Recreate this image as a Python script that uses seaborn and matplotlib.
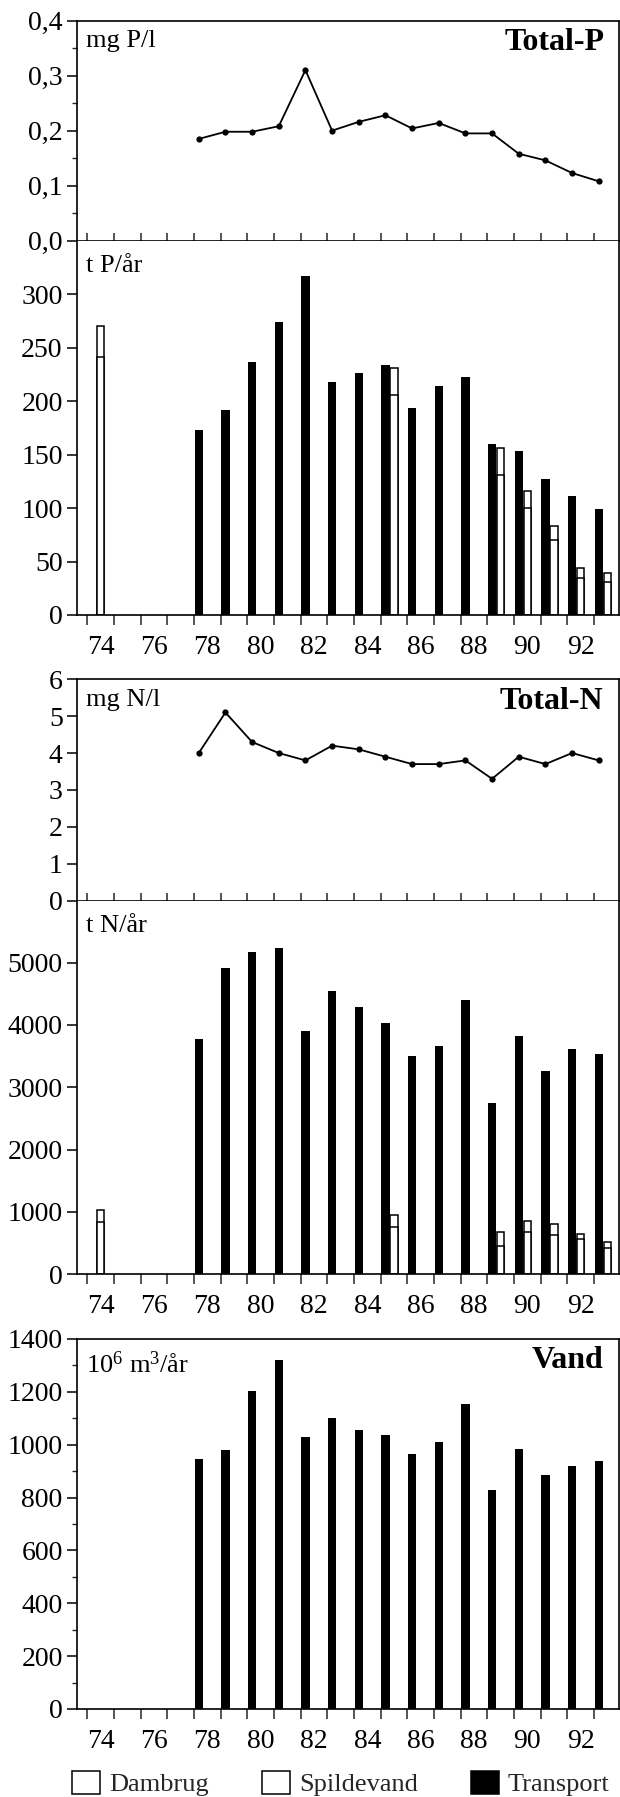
import matplotlib
matplotlib.use("Agg")
import matplotlib.pyplot as plt
import seaborn as sns
from matplotlib.patches import Patch
from matplotlib.ticker import MultipleLocator, FixedLocator, FixedFormatter, FuncFormatter

# ---- data -------------------------------------------------------------
years = [78, 79, 80, 81, 82, 83, 84, 85, 86, 87, 88, 89, 90, 91, 92, 93]

# concentrations
total_p_conc = [0.185, 0.198, 0.198, 0.208, 0.31, 0.20, 0.216, 0.228,
                0.204, 0.214, 0.195, 0.195, 0.158, 0.146, 0.123, 0.108]
total_n_conc = [4.0, 5.1, 4.3, 4.0, 3.8, 4.2, 4.1, 3.9,
                3.7, 3.7, 3.8, 3.3, 3.9, 3.7, 4.0, 3.8]

# transport (t/år)
p_transport = [173, 192, 237, 274, 317, 218, 226, 234,
               194, 214, 223, 160, 153, 127, 111, 99]
n_transport = [3770, 4920, 5170, 5230, 3910, 4550, 4290, 4030,
               3510, 3660, 4400, 2740, 3830, 3260, 3620, 3540]

# water discharge (10^6 m3/år)
vand = [945, 980, 1205, 1320, 1030, 1100, 1055, 1035,
        965, 1010, 1155, 830, 985, 885, 920, 940]

# point sources (stacked: spildevand at the bottom, dambrug on top)
source_years = [74, 85, 89, 90, 91, 92, 93]
p_spildevand = [241, 206, 131, 100, 70, 35, 31]
p_dambrug = [29, 25, 25, 16, 13, 9, 8]
n_spildevand = [830, 750, 445, 670, 630, 565, 415]
n_dambrug = [200, 200, 225, 180, 170, 85, 105]

legend_labels = ["Dambrug", "Spildevand", "Transport"]
year_labels = ["74", "76", "78", "80", "82", "84", "86", "88", "90", "92"]

# ---- style ------------------------------------------------------------
sns.set_theme(style="ticks")
plt.rcParams["font.family"] = ["Liberation Serif", "DejaVu Serif"]
plt.rcParams["mathtext.fontset"] = "custom"
plt.rcParams["mathtext.rm"] = "Liberation Serif"
plt.rcParams["mathtext.it"] = "Liberation Serif:italic"
plt.rcParams["axes.linewidth"] = 1.2

FS = 19          # unit labels and legend
TICK_FS = 20     # tick labels
W, H = 620, 1797
fig = plt.figure(figsize=(W / 100, H / 100), dpi=100)

X_LEFT, X_RIGHT = 77.3, 619.0


def add_axes(top, bottom):
    return fig.add_axes([X_LEFT / W, 1 - bottom / H,
                         (X_RIGHT - X_LEFT) / W, (bottom - top) / H])


ax1 = add_axes(20.6, 240.7)
ax2 = add_axes(240.7, 615.0)
ax3 = add_axes(679.3, 900.5)
ax4 = add_axes(900.5, 1274.0)
ax5 = add_axes(1339.0, 1709.0)

XLIM = (73.625, 93.94)
LINE_OFF = 0.18     # offset of line points / transport bars inside a year
SRC_OFF = 0.5       # offset of point-source bars inside a year
x_line = [y + LINE_OFF for y in years]
x_src = [y + SRC_OFF for y in source_years]


def comma(v, _pos, nd):
    return f"{v:.{nd}f}".replace(".", ",")


def style_common(ax):
    ax.set_xlim(*XLIM)
    ax.set_xlabel("")
    ax.set_ylabel("")
    for s in ax.spines.values():
        s.set_linewidth(1.2)
        s.set_color("black")
    ax.tick_params(axis="y", which="major", direction="out", length=7.5,
                   width=1.1, labelsize=TICK_FS, pad=3, colors="black")
    ax.tick_params(axis="y", which="minor", direction="out", length=3.5,
                   width=1.0)
    ax.xaxis.set_major_locator(FixedLocator(list(range(74, 94))))


def style_line_panel(ax):
    style_common(ax)
    ax.xaxis.set_major_formatter(FixedFormatter([""] * 20))
    ax.tick_params(axis="x", which="major", direction="in", length=6,
                   width=1.1, labelbottom=False)
    ax.tick_params(axis="x", which="minor", length=0, labelbottom=False)


def style_bar_panel(ax, top_spine=False):
    style_common(ax)
    ax.spines["top"].set_visible(top_spine)
    ax.xaxis.set_major_formatter(FixedFormatter([""] * 20))
    ax.xaxis.set_minor_locator(FixedLocator([int(t) + 0.5 for t in year_labels]))
    ax.xaxis.set_minor_formatter(FixedFormatter(year_labels))
    ax.tick_params(axis="x", which="major", direction="out", length=7.5,
                   width=1.1)
    ax.tick_params(axis="x", which="minor", length=0, pad=14.5,
                   labelsize=TICK_FS, colors="black")


def draw_line(ax, values):
    sns.lineplot(x=x_line, y=values, color="black", marker="o",
                 markersize=4.5, markeredgewidth=0, linewidth=1.3, ax=ax)


def draw_bars(ax, transport, spild=None, dam=None):
    sns.barplot(x=x_line, y=transport, native_scale=True, width=0.31,
                color="black", saturation=1, errorbar=None,
                linewidth=0, ax=ax)
    if spild is not None:
        totals = [s + d for s, d in zip(spild, dam)]
        sns.barplot(x=x_src, y=totals, native_scale=True, width=0.27,
                    color="white", saturation=1, errorbar=None,
                    edgecolor="black", linewidth=1.1, ax=ax)
        sns.barplot(x=x_src, y=spild, native_scale=True, width=0.27,
                    color="white", saturation=1, errorbar=None,
                    edgecolor="black", linewidth=1.1, ax=ax)


def corner_text(ax, text, dx, dy, right=False, bold=False, size=FS):
    ax.annotate(text, xy=(1 if right else 0, 1), xycoords="axes fraction",
                xytext=(dx * 0.72, -dy * 0.72), textcoords="offset points",
                ha="right" if right else "left", va="baseline",
                fontsize=size, fontweight="bold" if bold else "normal",
                color="black")


# ---- Total-P concentration ------------------------------------------------
draw_line(ax1, total_p_conc)
style_line_panel(ax1)
ax1.set_ylim(0, 0.4)
ax1.yaxis.set_major_locator(MultipleLocator(0.1))
ax1.yaxis.set_minor_locator(MultipleLocator(0.05))
ax1.yaxis.set_major_formatter(FuncFormatter(lambda v, p: comma(v, p, 1)))
corner_text(ax1, "mg P/l", 9, 26)
corner_text(ax1, "Total-P", -14, 29, right=True, bold=True, size=23)

# ---- P transport ------------------------------------------------------
draw_bars(ax2, p_transport, p_spildevand, p_dambrug)
style_bar_panel(ax2)
ax2.set_ylim(0, 350)
ax2.yaxis.set_major_locator(FixedLocator([0, 50, 100, 150, 200, 250, 300]))
corner_text(ax2, "t P/år", 9, 31)

# ---- Total-N concentration ------------------------------------------------
draw_line(ax3, total_n_conc)
style_line_panel(ax3)
ax3.set_ylim(0, 6)
ax3.yaxis.set_major_locator(MultipleLocator(1))
corner_text(ax3, "mg N/l", 9, 27)
corner_text(ax3, "Total-N", -16, 30, right=True, bold=True, size=23)

# ---- N transport ------------------------------------------------------
draw_bars(ax4, n_transport, n_spildevand, n_dambrug)
style_bar_panel(ax4)
ax4.set_ylim(0, 6000)
ax4.yaxis.set_major_locator(FixedLocator([0, 1000, 2000, 3000, 4000, 5000]))
corner_text(ax4, "t N/år", 9, 31)

# ---- water discharge ------------------------------------------------------
draw_bars(ax5, vand)
style_bar_panel(ax5, top_spine=True)
ax5.set_ylim(0, 1400)
ax5.yaxis.set_major_locator(MultipleLocator(200))
ax5.yaxis.set_minor_locator(MultipleLocator(100))
corner_text(ax5, r"10$^{6}$ m$^{3}$/år", 9, 34)
corner_text(ax5, "Vand", -16, 29, right=True, bold=True, size=23)

for ax in (ax1, ax2, ax3, ax4, ax5):
    ax.set_xlim(*XLIM)

# ---- legend -----------------------------------------------------------
handles = [
    Patch(facecolor="white", edgecolor="black", linewidth=1.1, label=legend_labels[0]),
    Patch(facecolor="white", edgecolor="black", linewidth=1.1, label=legend_labels[1]),
    Patch(facecolor="black", edgecolor="black", linewidth=1.1, label=legend_labels[2]),
]
fig.legend(handles=handles, ncol=3, loc="lower left",
           bbox_to_anchor=(71.7 / W, 0.0), frameon=False, fontsize=FS,
           handlelength=1.06, handleheight=0.95, handletextpad=0.35,
           columnspacing=2.0, borderaxespad=0, borderpad=0.02)

fig.savefig("out.png", dpi=100)
